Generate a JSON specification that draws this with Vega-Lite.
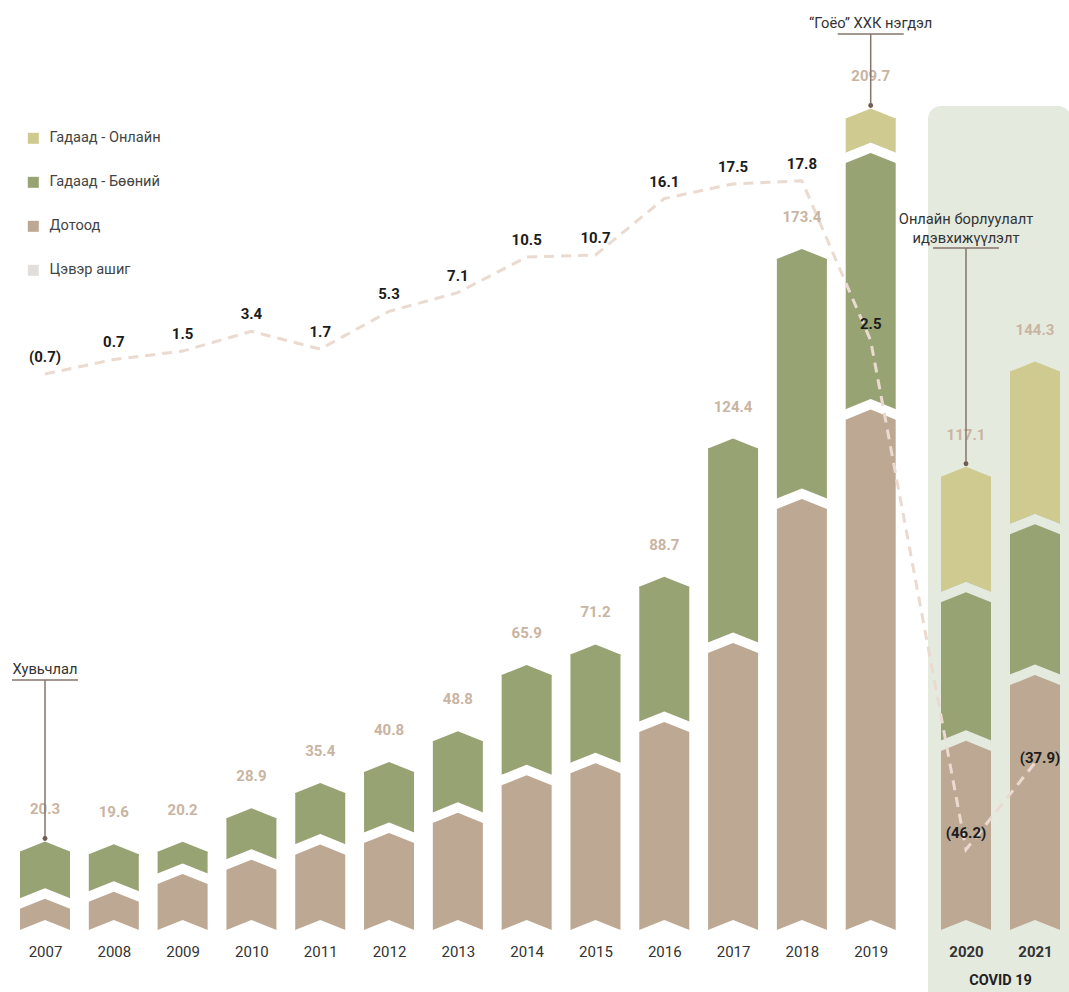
{
  "$schema": "https://vega.github.io/schema/vega-lite/v6.json",
  "width": 1069,
  "height": 930,
  "autosize": {"type": "none"},
  "padding": {"left": 0, "top": 0, "right": 0, "bottom": 62},
  "background": "#ffffff",
  "config": {
    "view": {"stroke": null},
    "font": "Roboto",
    "text": {"font": "Roboto"}
  },
  "datasets": {
    "seg": [
      {"year": 2007, "cat": "Дотоод", "value": 8.2},
      {"year": 2007, "cat": "Гадаад - Бөөний", "value": 12.1},
      {"year": 2008, "cat": "Дотоод", "value": 10.0},
      {"year": 2008, "cat": "Гадаад - Бөөний", "value": 9.6},
      {"year": 2009, "cat": "Дотоод", "value": 14.6},
      {"year": 2009, "cat": "Гадаад - Бөөний", "value": 5.6},
      {"year": 2010, "cat": "Дотоод", "value": 18.3},
      {"year": 2010, "cat": "Гадаад - Бөөний", "value": 10.6},
      {"year": 2011, "cat": "Дотоод", "value": 22.2},
      {"year": 2011, "cat": "Гадаад - Бөөний", "value": 13.2},
      {"year": 2012, "cat": "Дотоод", "value": 25.2},
      {"year": 2012, "cat": "Гадаад - Бөөний", "value": 15.6},
      {"year": 2013, "cat": "Дотоод", "value": 30.4},
      {"year": 2013, "cat": "Гадаад - Бөөний", "value": 18.4},
      {"year": 2014, "cat": "Дотоод", "value": 40.1},
      {"year": 2014, "cat": "Гадаад - Бөөний", "value": 25.8},
      {"year": 2015, "cat": "Дотоод", "value": 43.2},
      {"year": 2015, "cat": "Гадаад - Бөөний", "value": 28.0},
      {"year": 2016, "cat": "Дотоод", "value": 53.9},
      {"year": 2016, "cat": "Гадаад - Бөөний", "value": 34.8},
      {"year": 2017, "cat": "Дотоод", "value": 74.3},
      {"year": 2017, "cat": "Гадаад - Бөөний", "value": 50.1},
      {"year": 2018, "cat": "Дотоод", "value": 111.5},
      {"year": 2018, "cat": "Гадаад - Бөөний", "value": 61.9},
      {"year": 2019, "cat": "Дотоод", "value": 134.6},
      {"year": 2019, "cat": "Гадаад - Бөөний", "value": 66.3},
      {"year": 2019, "cat": "Гадаад - Онлайн", "value": 8.8},
      {"year": 2020, "cat": "Дотоод", "value": 49.0},
      {"year": 2020, "cat": "Гадаад - Бөөний", "value": 38.4},
      {"year": 2020, "cat": "Гадаад - Онлайн", "value": 29.7},
      {"year": 2021, "cat": "Дотоод", "value": 66.0},
      {"year": 2021, "cat": "Гадаад - Бөөний", "value": 39.0},
      {"year": 2021, "cat": "Гадаад - Онлайн", "value": 39.3}
    ],
    "yr": [
      {"year": 2007, "total": 20.3, "profit": -0.7},
      {"year": 2008, "total": 19.6, "profit": 0.7},
      {"year": 2009, "total": 20.2, "profit": 1.5},
      {"year": 2010, "total": 28.9, "profit": 3.4},
      {"year": 2011, "total": 35.4, "profit": 1.7},
      {"year": 2012, "total": 40.8, "profit": 5.3},
      {"year": 2013, "total": 48.8, "profit": 7.1},
      {"year": 2014, "total": 65.9, "profit": 10.5},
      {"year": 2015, "total": 71.2, "profit": 10.7},
      {"year": 2016, "total": 88.7, "profit": 16.1},
      {"year": 2017, "total": 124.4, "profit": 17.5},
      {"year": 2018, "total": 173.4, "profit": 17.8},
      {"year": 2019, "total": 209.7, "profit": 2.5},
      {"year": 2020, "total": 117.1, "profit": -46.2},
      {"year": 2021, "total": 144.3, "profit": -37.9}
    ],
    "covid": [
      {"from": 2020, "to": 2021, "label": "COVID 19"}
    ],
    "notes": [
      {"year": 2007, "total": 20.3, "level": 64.6, "note": ["Хувьчлал"]},
      {"year": 2019, "total": 209.7, "level": 231.5, "note": ["“Гоёо” ХХК нэгдэл"]},
      {"year": 2020, "total": 117.1, "level": 176.2, "note": ["Онлайн борлуулалт", "идэвхижүүлэлт"]}
    ]
  },
  "layer": [
    {
      "data": {"name": "covid"},
      "mark": {"type": "rect", "cornerRadius": 13, "color": "#e5eadf", "xOffset": -38, "x2Offset": 36},
      "encoding": {
        "x": {"field": "from", "type": "quantitative",
          "scale": {"type": "linear", "domain": [2007, 2019, 2020, 2021], "range": [45, 870.7, 966, 1035], "zero": false, "nice": false, "padding": 0},
          "axis": {"values": [2007, 2008, 2009, 2010, 2011, 2012, 2013, 2014, 2015, 2016, 2017, 2018, 2019, 2020, 2021], "format": "d", "title": null, "domain": false, "ticks": false, "tickSize": 0, "grid": false, "zindex": 2, "labelFontSize": 15, "labelColor": "#333333", "labelPadding": 14, "labelFont": "Roboto", "labelFlush": false, "labelOverlap": false, "labelFontWeight": {"condition": {"test": "datum.value >= 2020", "value": "bold"}, "value": "normal"}}},
        "x2": {"field": "to"},
        "y": {"datum": 212.9, "type": "quantitative", "scale": {"domain": [0, 240.3], "zero": false, "nice": false}, "axis": null},
        "y2": {"datum": -40}
      }
    },
    {
      "data": {"name": "covid"},
      "mark": {"type": "text", "dx": 34.5, "fontSize": 14.5, "fontWeight": "bold", "color": "#222222", "baseline": "middle", "align": "center"},
      "encoding": {
        "x": {"field": "from", "type": "quantitative"},
        "y": {"datum": -13.2, "type": "quantitative", "scale": {"domain": [0, 240.3], "zero": false, "nice": false}, "axis": null},
        "text": {"field": "label"}
      }
    },
    {
      "data": {"name": "seg"},
      "transform": [{"stack": "value", "groupby": ["year"], "as": ["v0", "v1"]}],
      "mark": {"type": "bar", "width": 50},
      "encoding": {
        "x": {"field": "year", "type": "quantitative"},
        "y": {"field": "v1", "type": "quantitative", "scale": {"domain": [0, 240.3], "zero": false, "nice": false}, "axis": null},
        "y2": {"field": "v0"},
        "color": {"field": "cat", "type": "nominal",
          "scale": {"domain": ["Гадаад - Онлайн", "Гадаад - Бөөний", "Дотоод", "Цэвэр ашиг"], "range": ["#cfca8f", "#98a374", "#bda893", "#e2dedb"]},
          "legend": {"orient": "none", "legendX": 26, "legendY": 131, "title": null, "symbolType": "square", "symbolSize": 121, "labelFontSize": 14.6, "labelColor": "#444444", "labelFont": "Roboto", "rowPadding": 29, "labelOffset": 9, "padding": 0, "symbolStrokeWidth": 0}}
      }
    },
    {
      "data": {"name": "seg"},
      "transform": [{"stack": "value", "groupby": ["year"], "as": ["v0", "v1"]}],
      "mark": {"type": "point", "shape": "M-1,0.04L-1,0L0,-0.4L1,0L1,0.04Z", "size": 2500, "filled": true, "opacity": 1, "strokeWidth": 0},
      "encoding": {
        "x": {"field": "year", "type": "quantitative"},
        "y": {"field": "v1", "type": "quantitative", "scale": {"domain": [0, 240.3], "zero": false, "nice": false}, "axis": null},
        "fill": {"field": "cat", "type": "nominal",
          "scale": {"domain": ["Гадаад - Онлайн", "Гадаад - Бөөний", "Дотоод", "Цэвэр ашиг"], "range": ["#cfca8f", "#98a374", "#bda893", "#e2dedb"]},
          "legend": null}
      }
    },
    {
      "data": {"name": "seg"},
      "transform": [{"stack": "value", "groupby": ["year"], "as": ["v0", "v1"]}],
      "mark": {"type": "point", "shape": "M-1.03,0.012L0,-0.4L1.03,0.012L1.03,0.432L0,0.02L-1.03,0.432Z", "size": 2500, "filled": true, "opacity": 1, "strokeWidth": 0},
      "encoding": {
        "x": {"field": "year", "type": "quantitative"},
        "y": {"field": "v0", "type": "quantitative", "scale": {"domain": [0, 240.3], "zero": false, "nice": false}, "axis": null},
        "fill": {"condition": {"test": "datum.year >= 2020", "value": "#e5eadf"}, "value": "#ffffff"}
      }
    },
    {
      "data": {"name": "yr"},
      "mark": {"type": "line", "color": "#ebdad0", "strokeWidth": 3, "strokeDash": [10, 7]},
      "encoding": {
        "x": {"field": "year", "type": "quantitative"},
        "y": {"field": "profit", "type": "quantitative", "scale": {"domain": [-53.9, 35.1], "zero": false, "nice": false}, "axis": null}
      }
    },
    {
      "data": {"name": "yr"},
      "transform": [{"filter": "datum.year != 2021"}],
      "mark": {"type": "text", "fontSize": 15, "fontWeight": "bold", "color": "#1c1c1c", "baseline": "middle", "align": "center", "dy": -17},
      "encoding": {
        "x": {"field": "year", "type": "quantitative"},
        "y": {"field": "profit", "type": "quantitative", "scale": {"domain": [-53.9, 35.1], "zero": false, "nice": false}, "axis": null},
        "text": {"field": "profit", "type": "quantitative", "format": "(.1f"}
      }
    },
    {
      "data": {"name": "yr"},
      "transform": [{"filter": "datum.year == 2021"}],
      "mark": {"type": "text", "fontSize": 15, "fontWeight": "bold", "color": "#1c1c1c", "baseline": "middle", "align": "center", "dy": -5, "dx": 5},
      "encoding": {
        "x": {"field": "year", "type": "quantitative"},
        "y": {"field": "profit", "type": "quantitative", "scale": {"domain": [-53.9, 35.1], "zero": false, "nice": false}, "axis": null},
        "text": {"field": "profit", "type": "quantitative", "format": "(.1f"}
      }
    },
    {
      "data": {"name": "yr"},
      "mark": {"type": "text", "fontSize": 15, "fontWeight": "bold", "color": "#c9b4a2", "baseline": "middle", "align": "center", "dy": -42},
      "encoding": {
        "x": {"field": "year", "type": "quantitative"},
        "y": {"field": "total", "type": "quantitative", "scale": {"domain": [0, 240.3], "zero": false, "nice": false}, "axis": null},
        "text": {"field": "total", "type": "quantitative", "format": ".1f"}
      }
    },
    {
      "data": {"name": "notes"},
      "mark": {"type": "rule", "color": "#86746b", "strokeWidth": 1.5, "xOffset": -33, "x2Offset": 33},
      "encoding": {
        "x": {"field": "year", "type": "quantitative"},
        "x2": {"field": "year"},
        "y": {"field": "level", "type": "quantitative", "scale": {"domain": [0, 240.3], "zero": false, "nice": false}, "axis": null}
      }
    },
    {
      "data": {"name": "notes"},
      "mark": {"type": "rule", "color": "#86746b", "strokeWidth": 1.5, "yOffset": -13},
      "encoding": {
        "x": {"field": "year", "type": "quantitative"},
        "y": {"field": "total", "type": "quantitative", "scale": {"domain": [0, 240.3], "zero": false, "nice": false}, "axis": null},
        "y2": {"field": "level"}
      }
    },
    {
      "data": {"name": "notes"},
      "mark": {"type": "point", "filled": true, "opacity": 1, "size": 24, "color": "#6f5d55", "yOffset": -13},
      "encoding": {
        "x": {"field": "year", "type": "quantitative"},
        "y": {"field": "total", "type": "quantitative", "scale": {"domain": [0, 240.3], "zero": false, "nice": false}, "axis": null}
      }
    },
    {
      "data": {"name": "notes"},
      "transform": [{"filter": "datum.year != 2020"}],
      "mark": {"type": "text", "fontSize": 14.7, "color": "#333333", "baseline": "bottom", "align": "center", "dy": -3},
      "encoding": {
        "x": {"field": "year", "type": "quantitative"},
        "y": {"field": "level", "type": "quantitative", "scale": {"domain": [0, 240.3], "zero": false, "nice": false}, "axis": null},
        "text": {"field": "note"}
      }
    },
    {
      "data": {"name": "notes"},
      "transform": [{"filter": "datum.year == 2020"}],
      "mark": {"type": "text", "fontSize": 14.7, "color": "#333333", "baseline": "bottom", "align": "center", "dy": -21, "lineHeight": 18.5},
      "encoding": {
        "x": {"field": "year", "type": "quantitative"},
        "y": {"field": "level", "type": "quantitative", "scale": {"domain": [0, 240.3], "zero": false, "nice": false}, "axis": null},
        "text": {"field": "note"}
      }
    }
  ],
  "resolve": {"scale": {"y": "independent"}}
}
